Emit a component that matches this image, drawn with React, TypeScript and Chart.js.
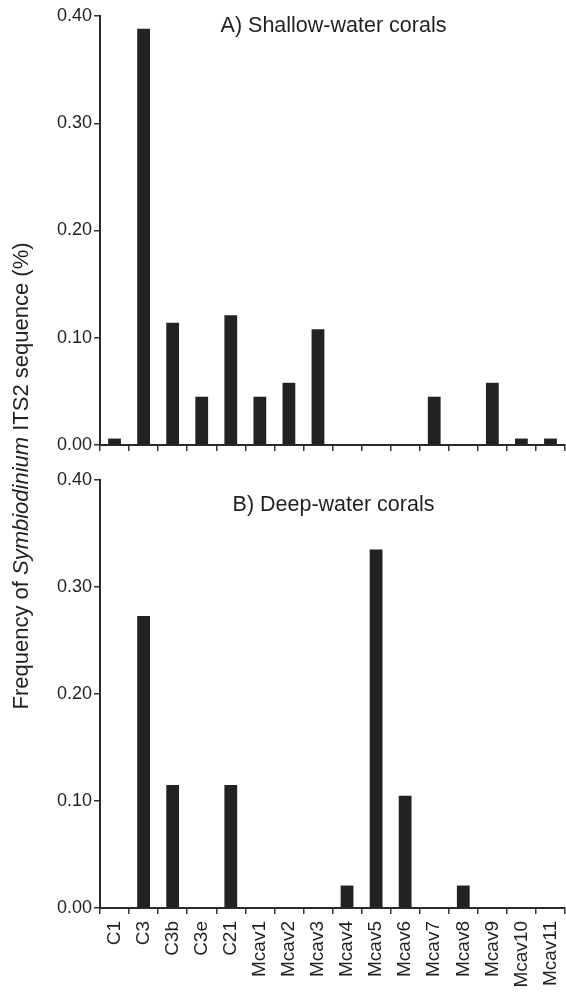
import React, { useEffect, useRef } from "react";
import { Chart, registerables } from "chart.js";

Chart.register(...registerables);

const categories = ["C1", "C3", "C3b", "C3e", "C21", "Mcav1", "Mcav2", "Mcav3", "Mcav4", "Mcav5", "Mcav6", "Mcav7", "Mcav8", "Mcav9", "Mcav10", "Mcav11"];
const shallowValues = [0.006, 0.388, 0.114, 0.045, 0.121, 0.045, 0.058, 0.108, 0, 0, 0, 0.045, 0, 0.058, 0.006, 0.006];
const deepValues = [0, 0.273, 0.115, 0, 0.115, 0, 0, 0, 0.021, 0.335, 0.105, 0, 0.021, 0, 0, 0];
const panelTitles = ["A) Shallow-water corals", "B) Deep-water corals"];
const yTicks = [0, 0.1, 0.2, 0.3, 0.4];

const FONT = "'Liberation Sans', Arial, Helvetica, sans-serif";
const INK = "#231f20";
const BAR = "#222222";

function makePanel(canvas: HTMLCanvasElement, values: number[], title: string, showLabels: boolean, titleOffset: number, topPad: number, xHeight: number) {
  const titlePlugin = {
    id: "panelTitle",
    afterDraw(chart: any) {
      const { ctx, chartArea } = chart;
      ctx.save();
      ctx.font = `21.5px ${FONT}`;
      ctx.fillStyle = INK;
      ctx.textAlign = "center";
      ctx.textBaseline = "alphabetic";
      ctx.fillText(title, (chartArea.left + chartArea.right) / 2 + 1, chartArea.top + titleOffset);
      ctx.restore();
    },
  };
  return new Chart(canvas, {
    type: "bar",
    data: {
      labels: categories,
      datasets: [
        {
          data: values,
          backgroundColor: BAR,
          borderWidth: 0,
          categoryPercentage: 1,
          barPercentage: 0.44,
        },
      ],
    },
    options: {
      responsive: false,
      animation: false,
      layout: { padding: { top: topPad, right: 1, left: 0, bottom: 0 } },
      plugins: { legend: { display: false }, tooltip: { enabled: false }, title: { display: false } },
      scales: {
        x: {
          offset: true,
          grid: { display: true, offset: true, drawOnChartArea: false, drawTicks: true, tickLength: 6, color: "#333333", lineWidth: 1.5 },
          border: { display: true, color: "#2a2a2a", width: 2 },
          ticks: {
            display: showLabels,
            autoSkip: false,
            maxRotation: 90,
            minRotation: 90,
            padding: 7,
            color: INK,
            font: { family: FONT, size: 19 },
          },
          afterFit: (s: any) => {
            s.height = xHeight;
            s.paddingLeft = 0;
            s.paddingRight = 0;
          },
        },
        y: {
          min: 0,
          max: 0.4,
          afterBuildTicks: (s: any) => {
            s.ticks = yTicks.map((v) => ({ value: v }));
          },
          grid: { display: true, drawOnChartArea: false, drawTicks: true, tickLength: 6, color: "#333333", lineWidth: 1.5 },
          border: { display: true, color: "#2a2a2a", width: 2 },
          ticks: {
            padding: 2,
            color: INK,
            font: { family: FONT, size: 18 },
            callback: (v: any) => Number(v).toFixed(2),
          },
          afterFit: (s: any) => {
            s.width = 100;
          },
        },
      },
    },
    plugins: [titlePlugin],
  });
}

export default function App() {
  const refA = useRef<HTMLCanvasElement>(null);
  const refB = useRef<HTMLCanvasElement>(null);

  useEffect(() => {
    const a = makePanel(refA.current!, shallowValues, panelTitles[0], false, 16, 16, 15);
    const b = makePanel(refB.current!, deepValues, panelTitles[1], true, 31, 20, 84);
    return () => {
      a.destroy();
      b.destroy();
    };
  }, []);

  return (
    <div style={{ position: "absolute", left: 0, top: 0, width: 566, height: 992, background: "#fff", overflow: "hidden" }}>
      <canvas ref={refA} width={566} height={460} style={{ position: "absolute", left: 0, top: 0, width: 566, height: 460 }} />
      <canvas ref={refB} width={566} height={532} style={{ position: "absolute", left: 0, top: 460, width: 566, height: 532 }} />
      <div
        style={{
          position: "absolute",
          left: 21,
          top: 476,
          width: 540,
          height: 26,
          lineHeight: "26px",
          textAlign: "center",
          whiteSpace: "nowrap",
          fontFamily: FONT,
          fontSize: 22,
          color: INK,
          transform: "translate(-50%, -50%) rotate(-90deg)",
        }}
      >
        Frequency of <i>Symbiodinium</i> ITS2 sequence (%)
      </div>
    </div>
  );
}
